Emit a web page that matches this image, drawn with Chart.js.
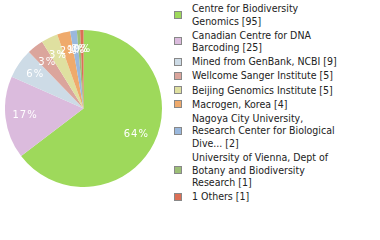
<!DOCTYPE html>
<html>
<head>
<meta charset="utf-8">
<script src="https://cdn.jsdelivr.net/npm/chart.js@4/dist/chart.umd.min.js"></script>
<style>
body{margin:0;background:#fff;width:380px;height:240px;overflow:hidden;position:relative}
#pie{position:absolute;left:5px;top:30px;width:157px;height:157px}
#legend{position:absolute;left:174px;top:2px;margin:0;padding:0;list-style:none;
  font-family:"DejaVu Sans Condensed","DejaVu Sans",sans-serif;font-stretch:condensed;font-size:10.5px;line-height:12.6px;color:#222}
#legend li{position:relative;padding-left:18px;margin-bottom:1.5px}
#legend span.box{position:absolute;left:0;top:50%;margin-top:-4px;width:6px;height:6px;border:1px solid #888}
</style>
</head>
<body>
<div id="pie"><canvas id="grafica"></canvas></div>
<ul id="legend"></ul>
<script>
// datos del pie
var etiquetas = [
  'Centre for Biodiversity\nGenomics [95]',
  'Canadian Centre for DNA\nBarcoding [25]',
  'Mined from GenBank, NCBI [9]',
  'Wellcome Sanger Institute [5]',
  'Beijing Genomics Institute [5]',
  'Macrogen, Korea [4]',
  'Nagoya City University,\nResearch Center for Biological\nDive... [2]',
  'University of Vienna, Dept of\nBotany and Biodiversity\nResearch [1]',
  '1 Others [1]'
];
var valores = [95, 25, 9, 5, 5, 4, 2, 1, 1];
var colores = ['#9ed95b','#dbbbdd','#cddbe6','#dba59c','#dfe0a0','#efaa6c','#9ab8dd','#9cbf76','#dc6f55'];

var total = valores.reduce(function(a,b){return a+b;},0);

// etiquetas de porcentaje dentro de cada rebanada
var porcentajes = {
  id:'porcentajes',
  afterDatasetsDraw: function(chart){
    var ctx = chart.ctx;
    var meta = chart.getDatasetMeta(0);
    ctx.save();
    ctx.fillStyle = '#fff';
    ctx.font = '10px "DejaVu Sans"';
    ctx.textAlign = 'center';
    ctx.textBaseline = 'middle';
    if ('letterSpacing' in ctx) ctx.letterSpacing = '1px';
    meta.data.forEach(function(arc,i){
      var p = arc.getProps(['startAngle','endAngle','outerRadius','x','y'],true);
      var ang = (p.startAngle + p.endAngle)/2;
      var r = p.outerRadius*0.75;
      var porcet = Math.floor(valores[i]*100/total);
      ctx.fillText(porcet+'%', p.x + Math.cos(ang)*r, p.y + Math.sin(ang)*r);
    });
    ctx.restore();
  }
};

var grafica = new Chart(document.getElementById('grafica'),{
  type:'pie',
  data:{
    labels:etiquetas,
    datasets:[{
      data:valores,
      backgroundColor:colores,
      borderWidth:0
    }]
  },
  options:{
    responsive:true,
    maintainAspectRatio:false,
    animation:false,
    layout:{padding:0},
    plugins:{
      legend:{display:false},
      tooltip:{enabled:false}
    }
  },
  plugins:[porcentajes]
});

// leyenda en html
var ul = document.getElementById('legend');
etiquetas.forEach(function(txt,i){
  var li = document.createElement('li');
  var box = document.createElement('span');
  box.className = 'box';
  box.style.background = colores[i];
  li.appendChild(box);
  txt.split('\n').forEach(function(linea,j){
    if (j>0) li.appendChild(document.createElement('br'));
    li.appendChild(document.createTextNode(linea));
  });
  ul.appendChild(li);
});
</script>
</body>
</html>
